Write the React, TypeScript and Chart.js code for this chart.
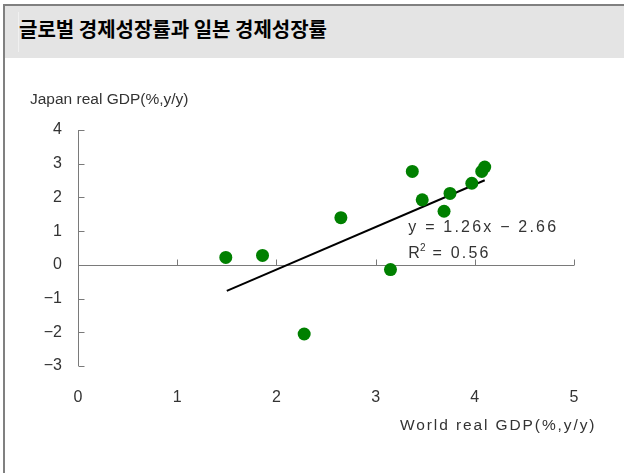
import React, { useEffect, useRef } from 'react';
import { Chart, registerables } from 'chart.js';

Chart.register(...registerables);

// ---- data ----
const worldGdp = [1.49, 1.86, 2.28, 2.65, 3.15, 3.37, 3.47, 3.69, 3.75, 3.97, 4.07, 4.1];
const japanGdp = [0.22, 0.28, -2.05, 1.4, -0.14, 2.77, 1.93, 1.59, 2.12, 2.42, 2.77, 2.9];
const trendX = [1.5, 4.1];
const trendY = [-0.77, 2.51];
const xTickValues = [0, 1, 2, 3, 4, 5];
const yTickValues = [-3, -2, -1, 0, 1, 2, 3, 4];
const titleText = '글로벌 경제성장률과 일본 경제성장률';
const yAxisTitle = 'Japan real GDP(%,y/y)';
const xAxisTitle = 'World real GDP(%,y/y)';
const equationText = 'y = 1.26x − 2.66';
const r2Value = '0.56';

const TEXT = '#333333';
const AXIS = '#7a7a7a';
const FONT = '"Liberation Sans", Arial, sans-serif';

const fmt = (v: number) => (v < 0 ? '−' + Math.abs(v) : String(v));

const decorPlugin = {
  id: 'decor',
  beforeDatasetsDraw(chart: any) {
    const { ctx } = chart;
    const xs = chart.scales.x;
    const ys = chart.scales.y;
    const x0 = xs.getPixelForValue(xTickValues[0]);
    const x1 = xs.getPixelForValue(xTickValues[xTickValues.length - 1]);
    const yTop = ys.getPixelForValue(yTickValues[yTickValues.length - 1]);
    const yBot = ys.getPixelForValue(yTickValues[0]);
    const yZero = Math.round(ys.getPixelForValue(0)) + 0.5;
    ctx.save();
    ctx.strokeStyle = AXIS;
    ctx.lineWidth = 1;
    ctx.beginPath();
    const ax = Math.round(x0) + 0.5;
    ctx.moveTo(ax, yTop);
    ctx.lineTo(ax, yBot);
    yTickValues.forEach((v) => {
      const py = Math.round(ys.getPixelForValue(v)) + 0.5;
      ctx.moveTo(ax, py);
      ctx.lineTo(ax + 6, py);
    });
    ctx.moveTo(ax, yZero);
    ctx.lineTo(x1, yZero);
    xTickValues.forEach((v) => {
      const px = Math.round(xs.getPixelForValue(v)) + 0.5;
      ctx.moveTo(px, yZero);
      ctx.lineTo(px, yZero - 6);
    });
    ctx.stroke();
    ctx.restore();
  },
  afterDatasetsDraw(chart: any) {
    const { ctx } = chart;
    const xs = chart.scales.x;
    const ys = chart.scales.y;
    ctx.save();
    ctx.fillStyle = TEXT;
    ctx.textBaseline = 'middle';
    ctx.textAlign = 'left';
    ctx.font = `15.5px ${FONT}`;
    (ctx as any).letterSpacing = '0px';
    ctx.fillText(yAxisTitle, 30, 100);
    (ctx as any).letterSpacing = '1.9px';
    ctx.fillText(xAxisTitle, 400, 426);
    const ex = xs.getPixelForValue(3.33);
    const ey1 = ys.getPixelForValue(1.12);
    const ey2 = ys.getPixelForValue(0.33);
    ctx.font = `16px ${FONT}`;
    (ctx as any).letterSpacing = '2.2px';
    ctx.fillText(equationText, ex, ey1);
    ctx.fillText('R', ex, ey2);
    (ctx as any).letterSpacing = '0px';
    const rw = ctx.measureText('R').width;
    ctx.font = `10px ${FONT}`;
    ctx.fillText('2', ex + rw, ey2 - 5);
    ctx.font = `16px ${FONT}`;
    (ctx as any).letterSpacing = '2.2px';
    ctx.fillText(' = ' + r2Value, ex + rw + 6, ey2);
    ctx.restore();
  },
};

export default function App() {
  const ref = useRef<HTMLCanvasElement | null>(null);
  useEffect(() => {
    if (!ref.current) return;
    const chart = new Chart(ref.current, {
      type: 'scatter',
      data: {
        datasets: [
          {
            type: 'line',
            data: trendX.map((x, i) => ({ x, y: trendY[i] })),
            borderColor: '#000000',
            borderWidth: 2,
            pointRadius: 0,
            fill: false,
            order: 2,
          } as any,
          {
            data: worldGdp.map((x, i) => ({ x, y: japanGdp[i] })),
            backgroundColor: '#008000',
            borderColor: '#008000',
            borderWidth: 0,
            pointRadius: 6.5,
            order: 1,
          },
        ],
      },
      options: {
        responsive: false,
        animation: false,
        devicePixelRatio: 1,
        layout: { padding: { left: 0, right: 50, top: 130, bottom: 47 } },
        plugins: { legend: { display: false }, tooltip: { enabled: false }, title: { display: false } },
        scales: {
          x: {
            type: 'linear',
            min: 0,
            max: 5,
            afterBuildTicks: (s: any) => {
              s.ticks = xTickValues.map((v) => ({ value: v }));
            },
            ticks: { color: TEXT, font: { size: 16, family: FONT }, padding: 22, callback: (v: any) => fmt(Number(v)) },
            grid: { display: false, drawTicks: false, tickLength: 0 },
            border: { display: false },
            afterFit: (s: any) => {
              s.height = 60;
            },
          },
          y: {
            type: 'linear',
            min: -3,
            max: 4,
            afterBuildTicks: (s: any) => {
              s.ticks = yTickValues.map((v) => ({ value: v }));
            },
            ticks: { color: TEXT, font: { size: 16, family: FONT }, padding: 16, callback: (v: any) => fmt(Number(v)) },
            grid: { display: false, drawTicks: false, tickLength: 0 },
            border: { display: false },
            afterFit: (s: any) => {
              s.width = 78;
            },
          },
        },
      },
      plugins: [decorPlugin],
    } as any);
    return () => chart.destroy();
  }, []);

  return (
    <div style={{ position: 'absolute', left: 0, top: 0, width: 624, height: 473, background: '#ffffff', overflow: 'hidden' }}>
      <div style={{ position: 'absolute', left: 3, top: 4, width: 621, height: 2, background: '#808080' }} />
      <div style={{ position: 'absolute', left: 3, top: 4, width: 2, height: 469, background: '#808080' }} />
      <div style={{ position: 'absolute', left: 5, top: 6, width: 619, height: 52, background: '#e4e4e4' }} />
      <div style={{ position: 'absolute', left: 18, top: 12, width: 1, height: 40, background: '#f0f0f0' }} />
      <div
        style={{
          position: 'absolute',
          left: 19,
          top: 15,
          height: 28,
          lineHeight: '28px',
          fontFamily: '"Noto Sans CJK KR", sans-serif',
          fontWeight: 700,
          fontSize: 20,
          letterSpacing: '0px',
          color: '#000000',
          whiteSpace: 'nowrap',
        }}
      >
        {titleText}
      </div>
      <canvas ref={ref} width={624} height={473} style={{ position: 'absolute', left: 0, top: 0 }} />
    </div>
  );
}
